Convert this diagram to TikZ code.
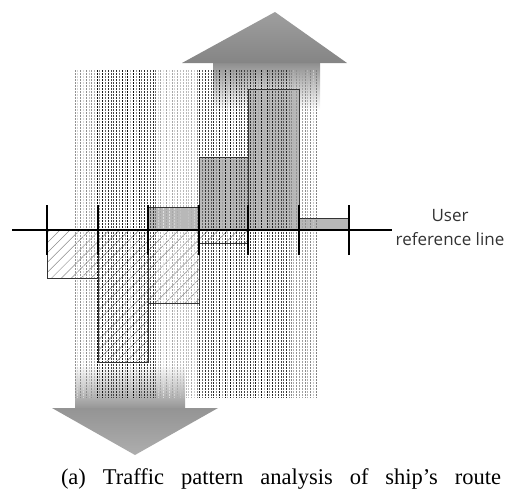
\documentclass[tikz,border=0pt]{standalone}
\usepackage{fontspec}
\setmainfont{Liberation Serif}
\newfontfamily\labelfont{Open Sans}
\usetikzlibrary{patterns.meta}

\begin{document}
\begin{tikzpicture}[x=1pt,y=-1pt,
  hatch/.style={pattern={Lines[angle=45,distance=7pt,line width=0.5pt]},pattern color=black!45},
  dotbar/.style={fill=black!28},
  bar/.style={draw=black!80,line width=1pt},
  tickmark/.style={line width=2.6pt},
  flowhead/.style={top color=black!38,bottom color=black!48}]
\useasboundingbox (0,0) rectangle (506,488);

% flow arrows
\shade[top color=black!45,bottom color=white] (213,62) rectangle (320,110);
\shade[flowhead] (182,63) -- (275,12) -- (347,63) -- cycle;
\shade[top color=white,bottom color=black!42] (75,365) rectangle (185,409);
\shade[top color=black!42,bottom color=black!32] (52,408) -- (218,408) -- (135,455) -- cycle;

% bars
\foreach \a/\b/\h in {148/199/207,199/248/157,248/299/89,299/349/218}
  \fill[dotbar] (\a,\h) rectangle (\b,230);
\foreach \a/\b/\h in {47/98/278,98/148/362,148/199/303,199/248/243}
  \fill[hatch] (\a,230) rectangle (\b,\h);

% traffic density
\foreach \a/\b/\c in {75/96/45,97/157/95,158/196/35,197/290/92,291/318/50} {
  \pgfmathtruncatemacro\n{(\b-\a)/2.8}
  \foreach \i in {0,...,\n} {
    \pgfmathtruncatemacro\g{\c*(0.3+0.7*abs(sin(\i*97+\a)))}
    \draw[black!\g,line width=0.95pt,dash pattern=on 1.5pt off 1.5pt] (\a+2.8*\i,70) -- (\a+2.8*\i,398);
  }
}

\foreach \a/\b/\h in {148/199/207,199/248/157,248/299/89,299/349/218}
  \draw[bar] (\a,\h) rectangle (\b,230);
\foreach \a/\b/\h in {47/98/278,98/148/362,148/199/303,199/248/243}
  \draw[bar] (\a,230) rectangle (\b,\h);

% reference line
\coordinate (rl-w) at (12,230);
\coordinate (rl-e) at (392,230);
\draw[line width=2.4pt] (rl-w) -- (rl-e);
\foreach \x [count=\k] in {47,98,148,199,248,299,349} {
  \coordinate (t\k) at (\x,230);
  \draw[tickmark] ([yshift=-25pt]t\k) -- ([yshift=25pt]t\k);
}

\node[font=\labelfont\fontsize{17}{24}\selectfont,text=black!80,align=center] (userref) at (450,228) {User\\reference line};
\node[anchor=base,font=\fontsize{22.5}{26}\selectfont] (caption) at (281,484)
  {\makebox[440pt][s]{(a) Traffic pattern analysis of ship's route}};
\end{tikzpicture}
\end{document}
